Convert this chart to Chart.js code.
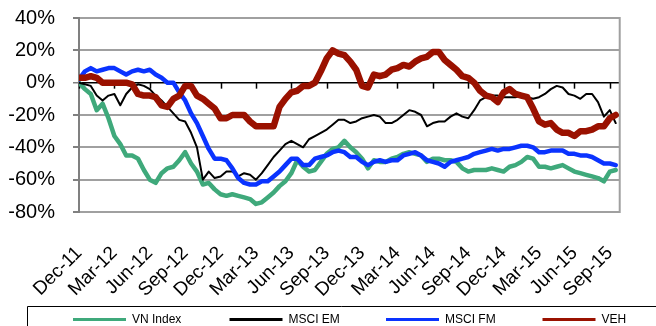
<!DOCTYPE html>
<html>
<head>
<meta charset="utf-8">
<script src="https://cdn.jsdelivr.net/npm/chart.js@4.4.1/dist/chart.umd.min.js"></script>
<style>
  html, body { margin: 0; padding: 0; background: #fff; }
  #wrap { width: 656px; height: 326px; }
</style>
</head>
<body>
<div id="wrap"><canvas id="perfChart" width="656" height="326"></canvas></div>
<script>
// quarterly axis labels, one every 3 months starting Dec-11
const tickLabels = ['Dec-11', 'Mar-12', 'Jun-12', 'Sep-12', 'Dec-12', 'Mar-13', 'Jun-13', 'Sep-13',
                    'Dec-13', 'Mar-14', 'Jun-14', 'Sep-14', 'Dec-14', 'Mar-15', 'Jun-15', 'Sep-15'];
const seriesNames = ['VN Index', 'MSCI EM', 'MSCI FM', 'VEH'];

// cumulative return in %, sampled every half month from Dec-11
const stepMonths = 0.5;
const vnIndex = [
    0, -4, -7, -17, -13, -22, -33, -38, -45, -45, -47, -54, -60, -62, -56, -53, -52, -48, -43, -50, -55, -63, -62, -66,
    -69, -70, -69, -70, -71, -72, -75, -74, -71, -68, -64, -61, -56, -48, -52, -55, -54, -49, -44, -41, -40, -36, -40,
    -43, -47, -53, -48, -49, -49, -47, -46, -44, -43, -44, -45, -49, -47, -47, -48, -48, -49, -53, -55, -54, -54, -54, -53,
    -54, -55, -52, -51, -49, -46, -47, -52, -52, -53, -52, -51, -53, -55, -56, -57, -58, -59, -61, -55, -54
];
const msciEM = [
    0, -1, -2, -8, -11, -8, -7, -14, -7, -3, -1, -2, -4, -8, -11, -15, -19, -23, -24, -31, -40, -60, -55, -59,
    -58, -55, -55, -58, -56, -57, -60, -56, -51, -46, -42, -38, -36, -38, -40, -35, -33, -31, -29, -26, -23, -23, -25,
    -24, -22, -21, -20, -21, -25, -25, -23, -20, -17, -18, -20, -27, -25, -24, -24, -21, -19, -21, -22, -17, -11, -9, -8,
    -8, -9, -9, -9, -8, -9, -10, -9, -7, -4, -2, -3, -7, -8, -10, -7, -7, -12, -21, -17, -25
];
const msciFM = [
    2, 7, 9, 7, 8, 9, 9, 7, 5, 7, 8, 7, 8, 5, 3, 0, 0, -6, -11, -19, -25, -33, -41, -47,
    -47, -48, -53, -59, -62, -63, -63, -61, -61, -58, -55, -51, -47, -47, -51, -51, -47, -46, -45, -43, -42, -43, -46,
    -46, -49, -51, -49, -48, -49, -48, -48, -45, -44, -43, -45, -48, -49, -50, -52, -49, -48, -47, -46, -44, -43, -42, -41,
    -42, -41, -41, -40, -39, -39, -40, -43, -43, -42, -42, -42, -44, -44, -45, -45, -46, -48, -50, -50, -51
];
const veh = [
    3, 3, 4, 3, 0, 0, 0, 0, 0, -1, -7, -8, -8, -9, -14, -15, -10, -8, -2, -2, -8, -10, -13, -16,
    -22, -22, -20, -20, -20, -24, -27, -27, -27, -27, -15, -10, -6, -5, -2, -2, 0, 7, 15, 20, 18, 17, 13,
    8, -2, -3, 5, 4, 5, 8, 9, 11, 10, 13, 15, 16, 19, 19, 14, 11, 8, 4, 3, 0, -5, -8, -9,
    -12, -6, -4, -7, -8, -9, -16, -24, -26, -25, -29, -31, -31, -33, -30, -30, -29, -27, -27, -22, -20
];

const seriesValues = [vnIndex, msciEM, msciFM, veh];
const seriesColors = ['#3fa97b', '#000000', '#0a33ff', '#9a1100'];
const seriesWidths = [4.5, 2, 4.5, 6.5];

const FONT = 'Liberation Sans, Arial, sans-serif';

function toPoints(values) {
    return values.map((v, i) => ({ x: i * stepMonths, y: v }));
}

// plot border on the right and the small tick marks along the 0% line
const framePlugin = {
    id: 'frame',
    beforeDatasetsDraw(chart) {
        const { ctx, chartArea: a, scales } = chart;
        ctx.save();
        ctx.strokeStyle = '#a0a0a0';
        ctx.lineWidth = 2;
        ctx.beginPath();
        ctx.moveTo(a.right, a.top - 1);
        ctx.lineTo(a.right, a.bottom + 1);
        ctx.stroke();

        const y0 = scales.y.getPixelForValue(0);
        ctx.strokeStyle = '#000';
        ctx.lineWidth = 1.5;
        scales.x.ticks.forEach(t => {
            const px = Math.round(scales.x.getPixelForValue(t.value)) + 0.5;
            ctx.beginPath();
            ctx.moveTo(px, y0);
            ctx.lineTo(px, y0 + 6);
            ctx.stroke();
        });
        ctx.restore();
    }
};

// boxed legend along the bottom, like the spreadsheet one
const legendPlugin = {
    id: 'boxLegend',
    afterDraw(chart) {
        const ctx = chart.ctx;
        const left = 27, top = 306, pitch = 156.5, lineLen = 53;
        ctx.save();
        ctx.strokeStyle = '#000';
        ctx.lineWidth = 1;
        ctx.beginPath();
        ctx.moveTo(left + 0.5, chart.height);
        ctx.lineTo(left + 0.5, top + 0.5);
        ctx.lineTo(chart.width, top + 0.5);
        ctx.stroke();

        ctx.font = '12px ' + FONT;
        ctx.textBaseline = 'middle';
        ctx.textAlign = 'left';
        seriesNames.forEach((name, i) => {
            const x = left + 46 + i * pitch;
            const y = 319.5;
            ctx.strokeStyle = seriesColors[i];
            ctx.lineWidth = 3;
            ctx.beginPath();
            ctx.moveTo(x, y);
            ctx.lineTo(x + lineLen, y);
            ctx.stroke();
            ctx.fillStyle = '#000';
            ctx.fillText(name, x + lineLen + 6, y);
        });
        ctx.restore();
    }
};

new Chart(document.getElementById('perfChart'), {
    type: 'line',
    data: {
        datasets: seriesNames.map((name, i) => ({
            label: name,
            data: toPoints(seriesValues[i]),
            borderColor: seriesColors[i],
            backgroundColor: seriesColors[i],
            borderWidth: seriesWidths[i],
            pointRadius: 0,
            tension: 0,
            borderJoinStyle: 'round',
            borderCapStyle: 'round',
            order: seriesNames.length - i
        }))
    },
    options: {
        responsive: false,
        animation: false,
        devicePixelRatio: 1,
        layout: { padding: { top: 18, right: 4, left: 0, bottom: 0 } },
        plugins: {
            legend: { display: false },
            tooltip: { enabled: false }
        },
        scales: {
            x: {
                type: 'linear',
                min: 0,
                max: 45.84,
                afterBuildTicks(scale) {
                    scale.ticks = tickLabels.map((_, i) => ({ value: i * 3 }));
                },
                afterFit(scale) { scale.height = 114; },
                grid: { display: false, drawTicks: false, tickLength: 0 },
                border: { display: true, color: '#a0a0a0', width: 2 },
                ticks: {
                    autoSkip: false,
                    minRotation: 45,
                    maxRotation: 45,
                    padding: 30,
                    color: '#000',
                    font: { family: FONT, size: 19 },
                    callback: v => tickLabels[Math.round(v / 3)]
                }
            },
            y: {
                min: -80,
                max: 40,
                afterFit(scale) {
                    scale.width = 79;
                    scale.paddingTop = 0;
                    scale.paddingBottom = 0;
                },
                grid: {
                    color: c => (c.tick && c.tick.value === 0) ? '#000' : '#a0a0a0',
                    lineWidth: c => (c.tick && c.tick.value === 0) ? 1.5 : 2,
                    tickColor: '#808080',
                    tickLength: 6
                },
                border: { display: true, color: '#808080', width: 2 },
                ticks: {
                    stepSize: 20,
                    padding: 18,
                    color: '#000',
                    font: { family: FONT, size: 20 },
                    callback: v => v + '%'
                }
            }
        }
    },
    plugins: [framePlugin, legendPlugin]
});
</script>
</body>
</html>
